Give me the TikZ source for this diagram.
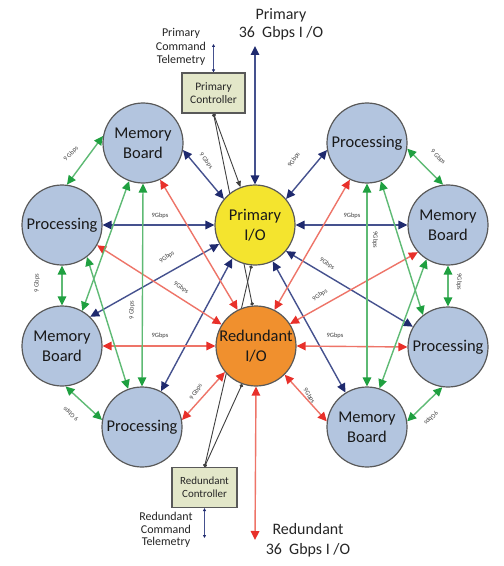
\documentclass[tikz,border=0pt]{standalone}
\usepackage{fontspec}
\setmainfont{Carlito}
\usetikzlibrary{arrows.meta}
\pgfdeclarelayer{bg}
\pgfsetlayers{bg,main}
\definecolor{navyA}{HTML}{1F2A6E}
\definecolor{navyL}{HTML}{45518E}
\definecolor{redA}{HTML}{E8302A}
\definecolor{redL}{HTML}{EE7468}
\definecolor{grnA}{HTML}{1FA040}
\definecolor{grnL}{HTML}{5EBA74}
\definecolor{boardfill}{HTML}{B3C5DF}
\definecolor{yelfill}{HTML}{F4E42E}
\definecolor{orgfill}{HTML}{F0902E}
\definecolor{ctrlfill}{HTML}{E3E7C9}
\tikzset{
  nvtip/.tip={Triangle[length=9bp,width=8.5bp,color=navyA]},
  rdtip/.tip={Triangle[length=9bp,width=8.5bp,color=redA]},
  gntip/.tip={Triangle[length=9bp,width=8.5bp,color=grnA]},
  smtip/.tip={Triangle[length=3bp,width=3bp,color=navyA]},
  board/.style={circle, draw=black!65, line width=1.2bp, fill=boardfill,
    minimum size=80bp, inner sep=0pt, align=center,
    font=\fontsize{16.5}{20}\selectfont, text=black!90},
  nv/.style={draw=navyL, line width=1.4bp, nvtip-nvtip},
  rd/.style={draw=redL, line width=1.4bp, rdtip-rdtip},
  gn/.style={draw=grnL, line width=1.4bp, gntip-gntip},
  ctl/.style={draw=black!75, line width=0.9bp},
  ctrlbox/.style={draw=black!65, line width=1.2bp, fill=ctrlfill,
    minimum width=63bp, minimum height=40bp, inner sep=1pt, align=center,
    font=\fontsize{11.5}{13.5}\selectfont, text=black!85},
  lbl/.style={font=\fontsize{6.5}{6.5}\selectfont, text=black!75, inner sep=0pt},
  txt/.style={align=center, text=black!85, inner sep=0pt},
}
\begin{document}
\begin{tikzpicture}[x=1bp, y=-1bp]
\useasboundingbox (0,0) rectangle (504,566);

% circles
\node[board, fill=yelfill] (pio) at (255,225) {Primary\\I/O};
\node[board, fill=orgfill] (rio) at (256,346) {Redundant\\I/O};
\node[board] (mbtl) at (143,143) {Memory\\Board};
\node[board] (prtr) at (367,143) {Processing};
\node[board] (prl) at (62,225) {Processing};
\node[board] (mbr) at (448,225) {Memory\\Board};
\node[board] (mbl) at (62,346) {Memory\\Board};
\node[board] (prr) at (448,347) {Processing};
\node[board] (prbl) at (142,427) {Processing};
\node[board] (mbbr) at (367,427) {Memory\\Board};

% controllers
\node[ctrlbox] (pc) at (213.5,93) {Primary\\Controller};
\node[ctrlbox, minimum width=65bp, font=\fontsize{11}{13}\selectfont] (rc) at (204.5,487.5) {Redundant\\Controller};

% texts
\node[txt, font=\fontsize{16}{18}\selectfont] (ptxt) at (281,24) {Primary\\36\ \ Gbps I\ /O};
\node[txt, font=\fontsize{12}{13.5}\selectfont] (pcmd) at (181,47) {Primary\\Command\\Telemetry};
\node[txt, font=\fontsize{12}{12.5}\selectfont] (rcmd) at (166,530) {Redundant\\Command\\Telemetry};
\node[txt, font=\fontsize{16}{20}\selectfont] (rtxt) at (308,540) {Redundant\\36\ \ Gbps I\ /O};

\coordinate (ptop) at (255,46);
\coordinate (rbot) at (255,540);
\coordinate (pct) at (213.5,44);
\coordinate (rcb) at (204.5,538);

\begin{pgfonlayer}{bg}
\fill[white] (0,0) rectangle (504,566);
% controller lines
\draw[ctl, {Circle[length=3.5bp]}-{Triangle[length=6bp,width=5bp]}] (pc.south) -- (pio.111);
\draw[ctl, {Circle[length=3.5bp]}-{Circle[length=3.5bp]}] (pc.south) -- (rio.95);
\draw[ctl, {Circle[length=3.5bp]}-{Circle[length=3.5bp]}] (rc.north) -- (rio.250);
\draw[ctl, {Circle[length=3.5bp]}-{Circle[length=3.5bp]}] (rc.north) -- (pio.265);
\draw[draw=navyL, line width=1bp, smtip-smtip] (pct) -- (pc.north);
\draw[draw=navyL, line width=1bp, smtip-smtip] (rc.south) -- (rcb);

% external I/O
\draw[nv] (pio.north) -- (ptop);
\draw[rd] (rio.south) -- (rbot);

% navy
\draw[nv] (mbtl.-10) -- (pio.140);
\draw[nv] (prtr.190) -- (pio.40);
\draw[nv] (prl.0) -- (pio.180);
\draw[nv] (pio.0) -- (mbr.180);
\draw[nv] (pio.208) -- (mbl.46);
\draw[nv] (pio.-40) -- (prr.150);
\draw[nv] (pio.236) -- (prbl.62);
\draw[nv] (pio.296) -- (mbbr.122);

% red
\draw[rd] (rio.220) -- (prbl.10);
\draw[rd] (rio.-45) -- (mbbr.172);
\draw[rd] (mbl.0) -- (rio.180);
\draw[rd] (rio.0) -- (prr.180);
\draw[rd] (mbtl.-65) -- (rio.117);
\draw[rd] (prtr.245) -- (rio.63);
\draw[rd] (prl.-30) -- (rio.148);
\draw[rd] (mbr.222) -- (rio.33);

% green ring
\draw[gn] (mbtl.170) -- (prl.83);
\draw[gn] (prtr.-8) -- (mbr.97);
\draw[gn] (prl.-90) -- (mbl.90);
\draw[gn] (mbr.-90) -- (prr.90);
\draw[gn] (mbl.-85) -- (prbl.170);
\draw[gn] (prr.-98) -- (mbbr.8);
% green cross
\draw[gn] (mbtl.-90) -- (prbl.90);
\draw[gn] (prtr.-90) -- (mbbr.90);
\draw[gn] (mbtl.250) -- (mbl.60);
\draw[gn] (prl.-52) -- (prbl.110);
\draw[gn] (prtr.-70) -- (prr.128);
\draw[gn] (mbr.238) -- (mbbr.72);
\end{pgfonlayer}

% labels
\node[lbl, rotate=45] (l1) at (71,154) {9 Gbps};
\node[lbl, rotate=-52] (l2) at (206,161) {9 Gbps};
\node[lbl, rotate=55] (l3) at (294,160) {9Gbps};
\node[lbl, rotate=-45] (l4) at (438,157) {9 Gbps};
\node[lbl] (l5) at (160,216) {9Gbps};
\node[lbl] (l6) at (352,216) {9Gbps};
\node[lbl, rotate=90] (l7) at (37,283) {9 Gbps};
\node[lbl, rotate=-90] (l8) at (459,282) {9Gbps};
\node[lbl, rotate=90] (l9) at (132,310) {9 Gbps};
\node[lbl, rotate=-90] (l10) at (375,240) {9Gbps};
\node[lbl, rotate=35] (l11) at (167,257) {9Gbps};
\node[lbl, rotate=-33] (l12) at (181,288) {9Gbps};
\node[lbl, rotate=-35] (l13) at (327,264) {9Gbps};
\node[lbl, rotate=35] (l14) at (320,295) {9Gbps};
\node[lbl] (l15) at (160,336) {9Gbps};
\node[lbl] (l16) at (335,336) {9Gbps};
\node[lbl, rotate=58] (l17) at (196,392) {9 Gbps};
\node[lbl, rotate=-58] (l18) at (309,396) {9Gbps};
\node[lbl, rotate=140] (l19) at (71,414) {9 Gbps};
\node[lbl, rotate=225] (l20) at (431,418) {9Gbps};
\end{tikzpicture}
\end{document}
